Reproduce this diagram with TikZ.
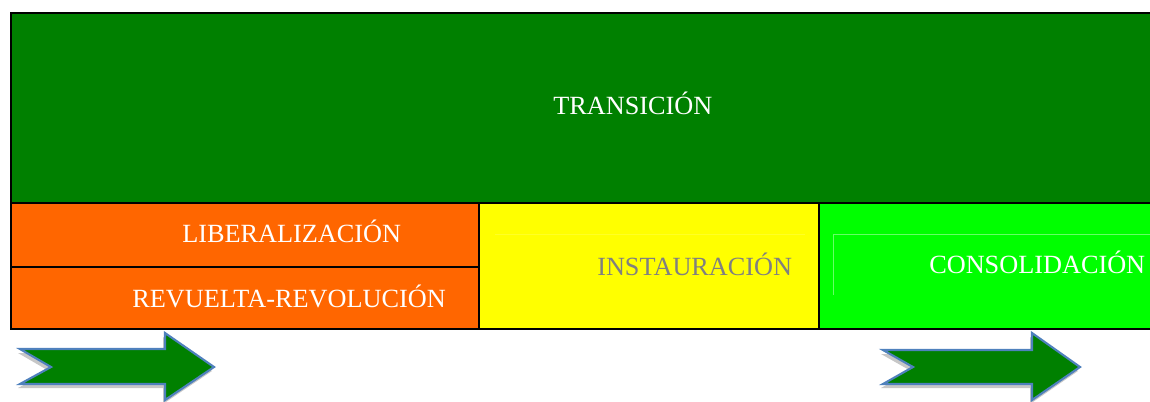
\documentclass[tikz,border=0pt]{standalone}
\usepackage{fontspec}
\setmainfont{Liberation Serif}
\definecolor{dkgreen}{HTML}{008000}
\definecolor{ltgreen}{HTML}{00FF00}
\definecolor{orng}{HTML}{FF6600}
\definecolor{yllw}{HTML}{FFFF00}
\definecolor{txtgray}{HTML}{808080}
\definecolor{arrblue}{HTML}{4F81BD}
\definecolor{faint}{HTML}{D8F0A0}
\begin{document}
\begin{tikzpicture}[x=0.75pt,y=-0.75pt,
  boxline/.style={draw=black,line width=1.5pt},
  label/.style={inner sep=0pt,anchor=base west,font=\fontsize{19.7}{23}\selectfont},
  bigarrow/.style={fill=dkgreen,draw=arrblue,line width=1.6pt,line join=miter},
  arrshadow/.style={fill=black!22}]
\useasboundingbox (0,0) rectangle (1150,401);
\begin{scope}
\clip (0,0) rectangle (1150,401);
% boxes
\path[fill=dkgreen] (11,13) rectangle (1160,203);
\path[fill=orng] (11,203) rectangle (479,329);
\path[fill=yllw] (479,203) rectangle (819,329);
\path[fill=ltgreen] (819,203) rectangle (1160,329);
% faint text-box outlines
\draw[yllw!85!white,line width=0.5pt] (495,234) -- (805,234);
\draw[ltgreen!60!white,line width=0.5pt] (1160,234) -- (833,234) -- (833,295);
% borders
\draw[boxline] (1160,13) -- (11,13) -- (11,329) -- (1160,329);
\draw[boxline] (11,203) -- (1160,203);
\draw[boxline] (11,267) -- (479,267);
\draw[boxline] (479,203) -- (479,329);
\draw[boxline] (819,203) -- (819,329);
\end{scope}
% labels
\node[label,text=white] (trans) at (553,114) {TRANSICIÓN};
\node[label,text=white] (lib) at (182,242) {LIBERALIZACIÓN};
\node[label,text=white] (rev) at (132,307) {REVUELTA-REVOLUCIÓN};
\node[label,text=txtgray] (inst) at (597,275) {INSTAURACIÓN};
\node[label,text=white] (cons) at (929,273) {CONSOLIDACIÓN};
% arrows
\path[arrshadow,shift={(-2,4)}] (20,349) -- (165,349) -- (165,333) -- (214,367) -- (165,400) -- (165,384) -- (20,384) -- (51,367) -- cycle;
\path[bigarrow] (20,349) -- (165,349) -- (165,333) -- (214,367) -- (165,400) -- (165,384) -- (20,384) -- (51,367) -- cycle;
\path[arrshadow,shift={(-2,4)}] (883,350) -- (1032,350) -- (1032,333) -- (1080,367) -- (1032,400) -- (1032,384) -- (883,384) -- (913,367) -- cycle;
\path[bigarrow] (883,350) -- (1032,350) -- (1032,333) -- (1080,367) -- (1032,400) -- (1032,384) -- (883,384) -- (913,367) -- cycle;
\end{tikzpicture}
\end{document}
